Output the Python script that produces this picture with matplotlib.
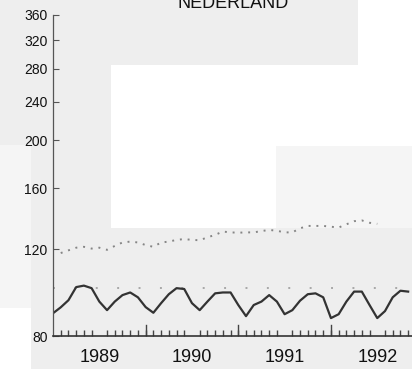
import numpy as np
import matplotlib
matplotlib.use("Agg")
import matplotlib.pyplot as plt
from matplotlib.patches import Rectangle
from matplotlib.ticker import FixedLocator, FixedFormatter, NullFormatter

plt.rcParams['font.family'] = ['Liberation Sans', 'DejaVu Sans']

# monthly index values, Jan 1989 onward
months_solid = np.arange(47)
solid_vals = [89.0, 91.5, 94.6, 100.6, 101.3, 100.1, 94.0, 90.3, 94.0, 96.9,
              98.1, 95.9, 91.6, 89.2, 93.3, 97.3, 100.1, 99.7, 93.3, 90.3,
              94.0, 97.7, 98.1, 98.1, 92.5, 87.8, 92.5, 94.0, 96.9, 94.0,
              88.6, 90.3, 94.4, 97.3, 97.7, 95.9, 87.0, 88.6, 94.0, 98.5,
              98.5, 92.5, 87.0, 89.9, 95.9, 98.9, 98.5]

months_dotted = np.arange(1, 43)
dotted_vals = [118.0, 119.5, 121.0, 121.5, 120.5, 121.0, 119.8, 122.0, 124.0, 124.5,
               124.0, 122.5, 121.5, 124.0, 124.5, 125.5, 126.0, 125.5, 125.3, 127.0,
               128.5, 130.5, 130.0, 129.8, 130.0, 130.0, 130.8, 131.5, 131.0, 130.0,
               130.0, 132.5, 134.0, 134.0, 134.0, 133.5, 133.0, 135.0, 137.0, 137.5,
               136.0, 135.3]

base_level = 100
years = [1989, 1990, 1991, 1992]
y_ticks = [80, 120, 160, 200, 240, 280, 320, 360]

W, H = 412, 369
fig = plt.figure(figsize=(W / 100, H / 100), dpi=100)
fig.patch.set_facecolor('white')

# scan background blocks (pixel boxes: x0, y0, x1, y1 from top-left)
blocks = [
    (0, 0, 358, 65, '#eeeeee'),
    (0, 65, 111, 145, '#eeeeee'),
    (31, 145, 111, 369, '#eeeeee'),
    (111, 228, 412, 369, '#eeeeee'),
    (0, 145, 31, 308, '#f5f5f5'),
    (276, 146, 412, 228, '#f5f5f5'),
]
for x0, y0, x1, y1, c in blocks:
    fig.patches.append(Rectangle((x0 / W, 1 - y1 / H), (x1 - x0) / W, (y1 - y0) / H,
                                 transform=fig.transFigure, facecolor=c,
                                 edgecolor='none', zorder=-10))

ax = fig.add_axes([53 / W, 1 - 336 / H, 1 - 53 / W, (336 - 15) / H])
ax.patch.set_visible(False)

t_solid = 1989 + months_solid / 12
t_dotted = 1989 + months_dotted / 12

ax.axhline(base_level, color='#a8a8a8', lw=1.4, linestyle=(0, (1, 10)))
ax.plot(t_dotted, dotted_vals, color='#858585', lw=1.4, linestyle=(0, (1, 3)))
ax.plot(t_solid, solid_vals, color='#333333', lw=1.6)

ax.set_yscale('log')
ax.set_ylim(80, 360)
ax.set_xlim(1989.0, 1989 + 46.5 / 12)

ax.yaxis.set_major_locator(FixedLocator(y_ticks))
ax.yaxis.set_major_formatter(FixedFormatter([str(v) for v in y_ticks]))
ax.yaxis.set_minor_locator(FixedLocator([]))
ax.yaxis.set_minor_formatter(NullFormatter())
ax.tick_params(axis='y', direction='in', length=4, width=0.8, color='#555555',
               labelsize=10, pad=4, labelcolor='#111111')

# year boundaries as long ticks, months as short ticks, labels mid-year
ax.xaxis.set_major_locator(FixedLocator([y + 0.5 for y in years]))
ax.xaxis.set_major_formatter(FixedFormatter([str(y) for y in years]))
month_pos = [1989 + m / 12 for m in range(1, 48) if m % 12 != 0]
ax.xaxis.set_minor_locator(FixedLocator(month_pos + [1990, 1991, 1992]))
ax.tick_params(axis='x', which='major', length=0, labelsize=13, pad=9,
               labelcolor='#111111')
ax.tick_params(axis='x', which='minor', direction='in', length=4, width=1.0,
               color='#444444')
for yb in [1990, 1991, 1992]:
    ax.axvline(yb, ymin=0, ymax=0.035, color='#444444', lw=1.0)

for s in ['top', 'right']:
    ax.spines[s].set_visible(False)
ax.spines['left'].set_color('#555555')
ax.spines['left'].set_linewidth(0.9)
ax.spines['bottom'].set_color('#333333')
ax.spines['bottom'].set_linewidth(1.2)

fig.text(233 / W, 1 - 3 / H, 'NEDERLAND', ha='center', va='center',
         fontsize=13, color='#111111')

fig.savefig('out.png', dpi=100)
